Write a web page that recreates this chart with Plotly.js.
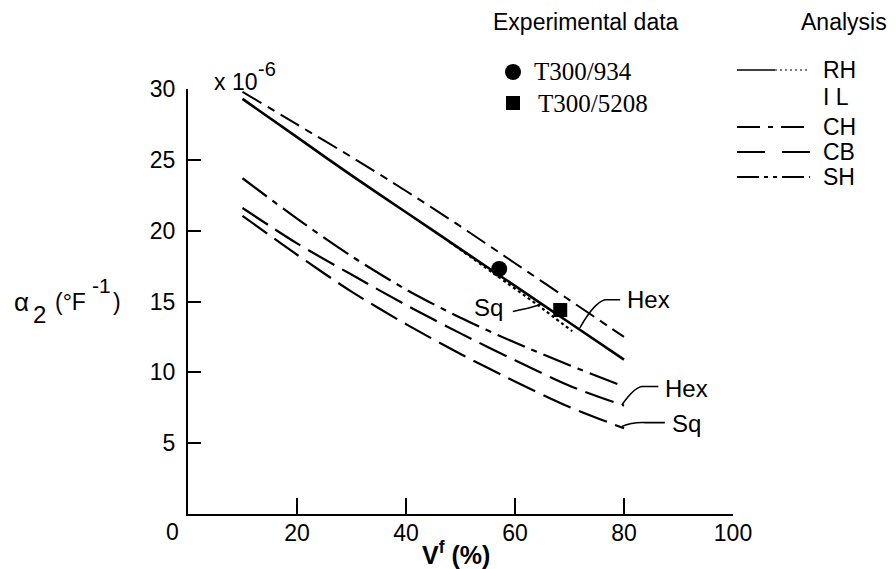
<!DOCTYPE html>
<html><head><meta charset="utf-8">
<script src="https://cdn.plot.ly/plotly-3.0.1.min.js"></script>
<style>html,body{margin:0;padding:0;background:#fff}#chart{width:896px;height:569px}</style>
</head><body><div id="chart"></div>
<script>
// ---- data ----
const vfGrid = [10, 20, 30, 40, 50, 60, 70, 80];
const chTop = [29.8, 27.5, 25.2, 22.8, 20.3, 17.7, 15.1, 12.5];      // upper dashed (top group)
const hexTop = [29.3, 26.6, 23.9, 21.3, 18.7, 16.1, 13.5, 10.9];     // solid "Hex"
const sqTopX = [48, 56, 64, 70.5];
const sqTopY = [19.2, 17.0, 14.8, 12.9];                              // dotted "Sq"
const dashDotLow = [23.7, 20.85, 18.2, 15.85, 13.85, 12.1, 10.5, 9.0]; // lower dash-dot
const hexLow = [21.6, 19.1, 16.9, 14.75, 12.75, 10.85, 9.05, 7.65];   // lower "Hex"
const sqLow = [21.05, 18.3, 15.7, 13.4, 11.3, 9.35, 7.55, 6.05];      // lower "Sq"
const expNames = ['T300/934', 'T300/5208'];
const expX = [57.1, 68.3];
const expY = [17.3, 14.4];
const xTicks = [20, 40, 60, 80, 100];
const yTicks = [5, 10, 15, 20, 25, 30];
const analysisNames = ['RH', 'I L', 'CH', 'CB', 'SH'];

// ---- layout helpers (pixel -> paper for decorations) ----
const W = 896, H = 569, ML = 188, MR = 163, MT = 89, MB = 55;
const PW = W - ML - MR, PH = H - MT - MB;
const px = v => (v - ML) / PW;
const py = v => (H - MB - v) / PH;
const FONT = 'Liberation Sans, Arial, sans-serif';
const SERIF = 'Liberation Serif, Times New Roman, serif';

const lineTr = (x, y, dash, w) => ({
  x: x, y: y, type: 'scatter', mode: 'lines', showlegend: false, hoverinfo: 'skip',
  line: {color: '#000', width: w, dash: dash, shape: 'spline', smoothing: 0.8}
});

const traces = [
  lineTr(vfGrid, chTop, '22px,7px,8px,7px', 2),
  lineTr(vfGrid, hexTop, 'solid', 2.6),
  lineTr(sqTopX, sqTopY, '3px,3px', 2.2),
  lineTr(vfGrid, dashDotLow, '30px,7px,6px,7px', 2.2),
  lineTr(vfGrid, hexLow, '30px,9px', 2.2),
  lineTr(vfGrid, sqLow, '30px,9px', 2.2),
  {x: [expX[0]], y: [expY[0]], type: 'scatter', mode: 'markers', name: expNames[0], showlegend: false,
   marker: {symbol: 'circle', size: 16, color: '#000'}},
  {x: [expX[1]], y: [expY[1]], type: 'scatter', mode: 'markers', name: expNames[1], showlegend: false,
   marker: {symbol: 'square', size: 14, color: '#000'}}
];

const ann = [];
const A = (o, size, fam) => ann.push(Object.assign({showarrow: false, font: {family: fam || FONT, size: size || 22, color: '#000'}}, o));
const PA = (x, y, text, xa, size, fam) => A({xref: 'paper', yref: 'paper', x: px(x), y: py(y), text: text, xanchor: xa, yanchor: 'middle'}, size, fam);
// origin label
PA(172, 532, '0', 'center', 23);
// x 10^-6
PA(212, 82, 'x 10', 'left', 23);
PA(256, 69, '-6', 'left', 20);
// y title
PA(12, 302, 'α', 'left', 26);
PA(31, 314, '2', 'left', 24);
PA(53, 302, '(°F', 'left', 23);
PA(90, 285, '-1', 'left', 21);
PA(111, 302, ')', 'left', 23);
// x title
PA(456, 553, '<b>V<sup>f</sup> (%)</b>', 'center', 25);
// curve labels
A({xref: 'x', yref: 'y', x: 80.2, y: 15.12, text: 'Hex', xanchor: 'left', yanchor: 'middle'}, 24);
A({xref: 'x', yref: 'y', x: 58.2, y: 14.56, text: 'Sq', xanchor: 'right', yanchor: 'middle'}, 24);
A({xref: 'x', yref: 'y', x: 87.2, y: 8.83, text: 'Hex', xanchor: 'left', yanchor: 'middle'}, 24);
A({xref: 'x', yref: 'y', x: 88.4, y: 6.36, text: 'Sq', xanchor: 'left', yanchor: 'middle'}, 24);
// legend headings
PA(586, 22, 'Experimental data', 'center', 23);
PA(844, 22, 'Analysis', 'center', 23);
PA(532, 72, expNames[0], 'left', 25, SERIF);
PA(536, 103, expNames[1], 'left', 25, SERIF);
const anaY = [70, 97, 127, 152, 177];
analysisNames.forEach((n, i) => PA(821, anaY[i], n, 'left', 23));

const shapes = [];
const L = (x0, y0, x1, y1, dash, w) => shapes.push({type: 'line', xref: 'paper', yref: 'paper',
  x0: px(x0), y0: py(y0), x1: px(x1), y1: py(y1), line: {color: '#000', width: w, dash: dash}});
// analysis legend samples
L(737, 70, 775, 70, 'solid', 1.6);
L(775, 70, 810, 70, '2px,3px', 1.2);
L(737, 127, 810, 127, '23px,8px,5px,8px', 1.8);
L(737, 152, 810, 152, '28px,17px', 1.8);
L(737, 177, 810, 177, '22px,5px,4px,5px,4px,5px', 1.8);
// legend markers
shapes.push({type: 'circle', xref: 'paper', yref: 'paper', xsizemode: 'pixel', ysizemode: 'pixel',
  xanchor: px(513), yanchor: py(72), x0: -8, x1: 8, y0: -8, y1: 8, fillcolor: '#000', line: {width: 0}});
shapes.push({type: 'rect', xref: 'paper', yref: 'paper', xsizemode: 'pixel', ysizemode: 'pixel',
  xanchor: px(513), yanchor: py(103), x0: -7, x1: 7, y0: -7, y1: 7, fillcolor: '#000', line: {width: 0}});
// leader lines (data coords)
const P = (path) => shapes.push({type: 'path', xref: 'x', yref: 'y', path: path, line: {color: '#000', width: 1.6}});
P('M 71.9,13.14 Q 74.5,14.9 76.5,15.12 L 79.3,15.12');
P('M 59.6,14.3 Q 62.5,14.5 64.8,14.8');
P('M 79.6,7.7 Q 82,9.0 83.4,9.0 L 86.3,9.0');
P('M 79.6,6.17 Q 81.5,6.5 84,6.45 L 87.5,6.45');

const axisCommon = {showgrid: false, zeroline: false, showline: true, linecolor: '#000', linewidth: 2,
  ticks: 'inside', tickcolor: '#000', tickwidth: 2, tickfont: {family: FONT, size: 23, color: '#000'}, fixedrange: true};

const layout = {
  width: W, height: H, margin: {l: ML, r: MR, t: MT, b: MB, pad: 0},
  paper_bgcolor: '#fff', plot_bgcolor: '#fff', showlegend: false,
  xaxis: Object.assign({}, axisCommon, {range: [0, 100], tickvals: xTicks, ticktext: xTicks.map(String), ticklen: 16, ticklabelstandoff: -3}),
  yaxis: Object.assign({}, axisCommon, {range: [0, 30], tickvals: yTicks, ticktext: yTicks.map(String), ticklen: 13, ticklabelstandoff: 6}),
  annotations: ann, shapes: shapes
};
Plotly.newPlot('chart', traces, layout, {displayModeBar: false, staticPlot: true});
</script></body></html>
